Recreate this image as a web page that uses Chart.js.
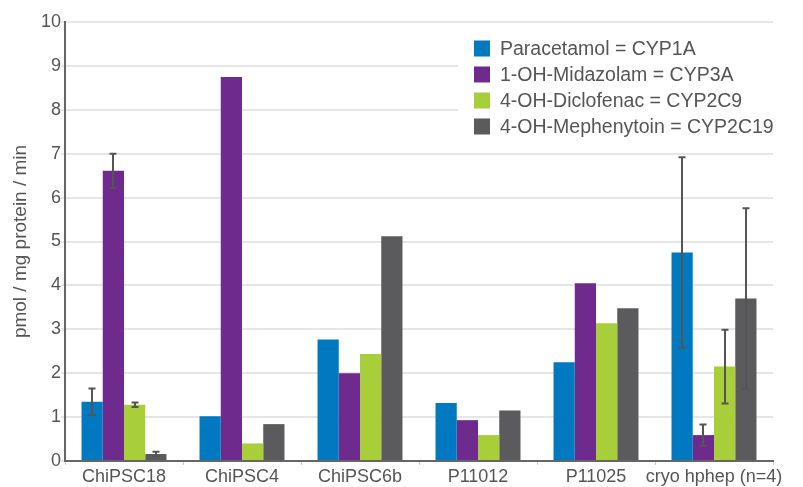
<!DOCTYPE html>
<html lang="en">
<head>
  <meta charset="UTF-8">
  <title>CYP activity</title>
  <script src="https://cdn.jsdelivr.net/npm/chart.js"></script>
  <style>
    html, body { margin: 0; padding: 0; background: #fff; }
    #wrap { width: 803px; height: 487px; }
  </style>
</head>
<body>
  <div id="wrap">
    <canvas id="barChart" width="803" height="487"></canvas>
  </div>
  <script>
    // values
    const categories = ['ChiPSC18', 'ChiPSC4', 'ChiPSC6b', 'P11012', 'P11025', 'cryo hphep (n=4)'];
    const seriesNames = ['Paracetamol = CYP1A', '1-OH-Midazolam = CYP3A', '4-OH-Diclofenac = CYP2C9', '4-OH-Mephenytoin = CYP2C19'];
    const paracetamol = [1.35, 1.02, 2.77, 1.32, 2.25, 4.75];
    const midazolam = [6.61, 8.75, 2.0, 0.93, 4.05, 0.59];
    const diclofenac = [1.28, 0.40, 2.44, 0.59, 3.14, 2.15];
    const mephenytoin = [0.16, 0.84, 5.12, 1.15, 3.48, 3.70];
    // +/- error (null = no error bar)
    const paracetamolErr = [0.30, null, null, null, null, 2.17];
    const midazolamErr = [0.39, null, null, null, null, 0.24];
    const diclofenacErr = [0.05, null, null, null, null, 0.84];
    const mephenytoinErr = [0.05, null, null, null, null, 2.06];
    const yTicks = [0, 1, 2, 3, 4, 5, 6, 7, 8, 9, 10];

    const colors = ['#0079c1', '#6e2a8d', '#a8ce3a', '#5b5b5d'];
    const values = [paracetamol, midazolam, diclofenac, mephenytoin];
    const errors = [paracetamolErr, midazolamErr, diclofenacErr, mephenytoinErr];
    const font = '"Liberation Sans", Arial, sans-serif';

    // draws +/- error bars on top of the bars
    const errorBars = {
      id: 'errorBars',
      afterDatasetsDraw(chart) {
        const ctx = chart.ctx;
        const y = chart.scales.y;
        ctx.save();
        ctx.strokeStyle = '#555';
        ctx.lineWidth = 2;
        chart.data.datasets.forEach((ds, i) => {
          const meta = chart.getDatasetMeta(i);
          errors[i].forEach((e, j) => {
            if (e == null) return;
            const bar = meta.data[j];
            const x = Math.round(bar.x);
            const top = y.getPixelForValue(ds.data[j] + e);
            const bot = y.getPixelForValue(ds.data[j] - e);
            ctx.beginPath();
            ctx.moveTo(x, top); ctx.lineTo(x, bot);
            ctx.moveTo(x - 3.5, top); ctx.lineTo(x + 3.5, top);
            ctx.moveTo(x - 3.5, bot); ctx.lineTo(x + 3.5, bot);
            ctx.stroke();
          });
        });
        ctx.restore();
      }
    };

    // legend sitting inside the plot, top right
    const boxLegend = {
      id: 'boxLegend',
      afterDraw(chart) {
        const ctx = chart.ctx;
        ctx.save();
        ctx.fillStyle = '#fff';
        ctx.fillRect(458, 33, 330, 105);
        ctx.font = '19.5px ' + font;
        ctx.textBaseline = 'middle';
        chart.data.datasets.forEach((ds, i) => {
          const cy = 48.5 + i * 26;
          ctx.fillStyle = ds.backgroundColor;
          ctx.fillRect(474, cy - 8, 16, 16);
          ctx.fillStyle = '#555';
          ctx.fillText(ds.label, 500, cy + 1);
        });
        ctx.restore();
      }
    };

    const ctx = document.getElementById('barChart').getContext('2d');
    new Chart(ctx, {
      type: 'bar',
      data: {
        labels: categories,
        datasets: values.map((v, i) => ({
          label: seriesNames[i],
          data: v,
          backgroundColor: colors[i],
          borderWidth: 0,
          categoryPercentage: 0.72,
          barPercentage: 1
        }))
      },
      options: {
        responsive: false,
        animation: false,
        layout: { padding: { left: 0, right: 30, top: 22, bottom: 0 } },
        plugins: {
          legend: { display: false },
          tooltip: { enabled: false }
        },
        scales: {
          x: {
            afterFit: (s) => { s.height = 26; },
            grid: {
              offset: true,
              drawOnChartArea: false,
              tickLength: 4,
              color: '#ccc'
            },
            border: { color: '#666', width: 2 },
            ticks: {
              padding: 1,
              autoSkip: false,
              maxRotation: 0,
              minRotation: 0,
              color: '#555',
              font: { family: font, size: 18 }
            }
          },
          y: {
            min: 0,
            max: 10,
            afterFit: (s) => { s.width = 65; },
            afterBuildTicks: (s) => { s.ticks = yTicks.map(v => ({ value: v })); },
            grid: { color: '#e6e6e6', lineWidth: 2, tickLength: 4 },
            border: { color: '#666', width: 2 },
            ticks: {
              padding: 0,
              color: '#555',
              font: { family: font, size: 18 }
            },
            title: {
              display: true,
              text: 'pmol / mg protein / min',
              color: '#555',
              padding: { top: 9, bottom: 0 },
              font: { family: font, size: 19 }
            }
          }
        }
      },
      plugins: [errorBars, boxLegend]
    });
  </script>
</body>
</html>
